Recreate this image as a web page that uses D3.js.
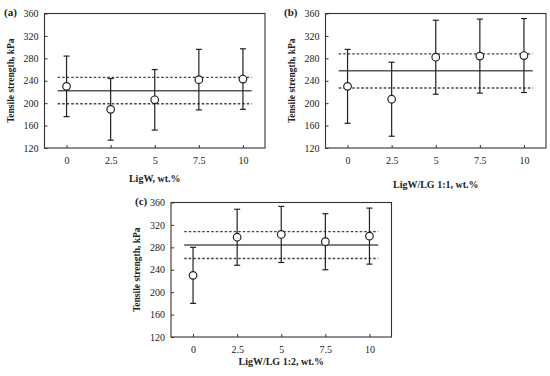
<!DOCTYPE html>
<html>
<head>
<meta charset="utf-8">
<script src="https://d3js.org/d3.v7.min.js"></script>
<style>
  body { margin: 0; background: #fff; }
  svg text { font-family: "Liberation Serif", "Times New Roman", serif; fill: #222; }
</style>
</head>
<body>
<script type="text/javascript">

  // loadings (x positions) and y ticks
  var loadings = [0, 2.5, 5, 7.5, 10];
  var yTicks = [120, 160, 200, 240, 280, 320, 360];

  // (a) LigW
  var meanA = [230, 189, 206, 242, 243];
  var sdA   = [54, 55, 54, 54, 54];
  var avgA  = [222, 199, 246];   // overall mean, lower, upper

  // (b) LigW/LG 1:1
  var meanB = [230, 207, 282, 284, 285];
  var sdB   = [66, 66, 66, 66, 66];
  var avgB  = [258, 227, 288];

  // (c) LigW/LG 1:2
  var meanC = [230, 298, 303, 290, 300];
  var sdC   = [50, 50, 50, 50, 50];
  var avgC  = [284, 260, 308];

  var w = 550, h = 376;

  var svg = d3.select("body").append("svg")
      .attr("width", w)
      .attr("height", h);

  var panels = [
    {tag: "(a)", xlab: "LigW, wt.%",        mean: meanA, sd: sdA, avg: avgA,
     left: 44.5, top: 13.5, tagX: 4,   tagY: 16,  xlabY: 182},
    {tag: "(b)", xlab: "LigW/LG 1:1, wt.%", mean: meanB, sd: sdB, avg: avgB,
     left: 325.5, top: 13.5, tagX: 284, tagY: 16, xlabY: 188},
    {tag: "(c)", xlab: "LigW/LG 1:2, wt.%", mean: meanC, sd: sdC, avg: avgC,
     left: 171, top: 202.5, tagX: 135, tagY: 205, xlabY: 365}
  ];

  var pw = 220.5, ph = 134.5;

  panels.forEach(function(p) {
    var g = svg.append("g")
        .attr("transform", "translate(" + p.left + "," + p.top + ")");

    var x = d3.scaleLinear().domain([-1.25, 11.25]).range([0, pw]);
    var y = d3.scaleLinear().domain([120, 360]).range([ph, 0]);

    // axes with inward ticks
    var xa = g.append("g")
        .attr("transform", "translate(0," + ph + ")")
        .call(d3.axisBottom(x).tickValues(loadings).tickSizeInner(-3).tickSizeOuter(0)
              .tickPadding(9).tickFormat(function(d) { return d; }));
    var ya = g.append("g")
        .call(d3.axisLeft(y).tickValues(yTicks).tickSizeInner(-3).tickSizeOuter(0).tickPadding(6));

    [xa, ya].forEach(function(a) {
      a.select(".domain").remove();
      a.selectAll("line").attr("stroke", "#333");
      a.selectAll("text").style("font-size", "10px")
        .style("font-family", "'Liberation Serif', serif").attr("fill", "#333");
    });

    // frame
    g.append("rect")
        .attr("width", pw).attr("height", ph)
        .attr("fill", "none").attr("stroke", "#333").attr("stroke-width", 1.1);

    // overall mean and band
    p.avg.forEach(function(v, i) {
      g.append("line")
          .attr("x1", x(-0.5)).attr("x2", x(10.5))
          .attr("y1", y(v)).attr("y2", y(v))
          .attr("stroke", i === 0 ? "#555" : "#444")
          .attr("stroke-width", i === 0 ? 1.5 : 1.4)
          .attr("stroke-dasharray", i === 0 ? null : "2.5,2");
    });

    var pts = loadings.map(function(d, i) { return {x: d, m: p.mean[i], s: p.sd[i]}; });

    var bar = g.selectAll(".pt").data(pts).enter().append("g").attr("class", "pt");

    bar.append("line")
        .attr("x1", function(d) { return x(d.x); })
        .attr("x2", function(d) { return x(d.x); })
        .attr("y1", function(d) { return y(d.m - d.s); })
        .attr("y2", function(d) { return y(d.m + d.s); })
        .attr("stroke", "#222").attr("stroke-width", 1.2);

    [-1, 1].forEach(function(k) {
      bar.append("line")
          .attr("x1", function(d) { return x(d.x) - 3; })
          .attr("x2", function(d) { return x(d.x) + 3; })
          .attr("y1", function(d) { return y(d.m + k * d.s); })
          .attr("y2", function(d) { return y(d.m + k * d.s); })
          .attr("stroke", "#222").attr("stroke-width", 1.2);
    });

    bar.append("circle")
        .attr("cx", function(d) { return x(d.x); })
        .attr("cy", function(d) { return y(d.m); })
        .attr("r", 3.8)
        .attr("fill", "#fff").attr("stroke", "#222").attr("stroke-width", 1.2);

    // axis titles
    g.append("text")
        .attr("x", pw / 2).attr("y", p.xlabY - p.top)
        .attr("text-anchor", "middle")
        .style("font-size", "10px").style("font-weight", "bold")
        .text(p.xlab);

    g.append("text")
        .attr("transform", "translate(" + (-31) + "," + (ph / 2) + ") rotate(-90)")
        .attr("text-anchor", "middle")
        .style("font-size", "9.5px").style("font-weight", "bold")
        .text("Tensile strength, kPa");

    svg.append("text")
        .attr("x", p.tagX).attr("y", p.tagY)
        .style("font-size", "11px").style("font-weight", "bold")
        .text(p.tag);
  });

</script>
</body>
</html>
